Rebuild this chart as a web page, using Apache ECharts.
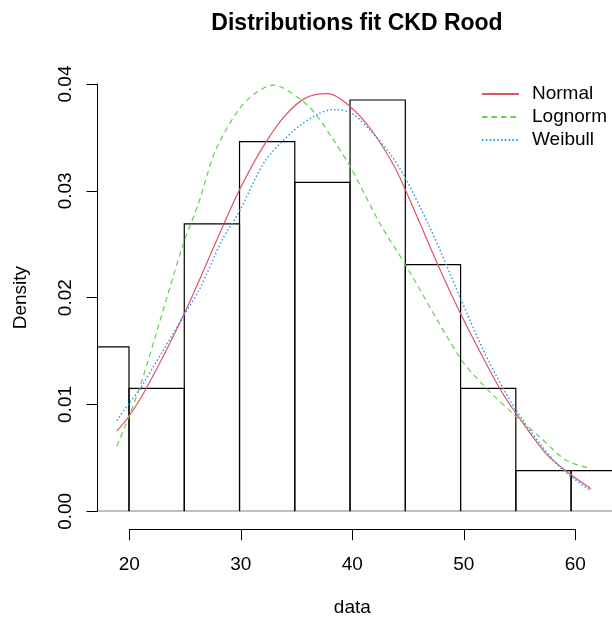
<!DOCTYPE html>
<html><head><meta charset="utf-8">
<script src="https://cdn.jsdelivr.net/npm/echarts@6/dist/echarts.min.js"></script>
<style>html,body{margin:0;padding:0;background:#fff}#c{width:612px;height:621px}</style>
</head><body><div id="c"></div>
<script>
// Histogram (density scale), bins of width 5
const binStart = [15, 20, 25, 30, 35, 40, 45, 50, 55, 60];
const binEnd   = [20, 25, 30, 35, 40, 45, 50, 55, 60, 65];
const density  = [0.0154, 0.0115, 0.0269, 0.0346, 0.0308, 0.0385, 0.0231, 0.0115, 0.0038, 0.0038];

// Fitted density curves
const normalX = [18.9, 20, 21.56, 25, 28.58, 30, 32, 34, 36, 38, 40, 42, 44, 45, 46.52, 47.93, 50, 53.54, 55, 57.73, 59.52, 61.8];
const normalY = [0.0075, 0.0089, 0.0115, 0.0185, 0.0269, 0.0301, 0.0339, 0.0369, 0.0387, 0.0391, 0.0379, 0.0356, 0.0323, 0.0301, 0.0265, 0.0231, 0.0185, 0.0115, 0.0092, 0.0054, 0.0038, 0.0021];

const lognormX = [18.9, 20, 21.1, 24.84, 26.28, 27.84, 29.93, 31.5, 33.07, 35.6, 36.95, 38.6, 40, 42.78, 45, 50, 52.35, 55, 57.13, 59.52, 61.8];
const lognormY = [0.0061, 0.0089, 0.0120, 0.0248, 0.0288, 0.0338, 0.0376, 0.0392, 0.0399, 0.0385, 0.0371, 0.0346, 0.0323, 0.0268, 0.0231, 0.0143, 0.0115, 0.0089, 0.0070, 0.0048, 0.0040];

const weibullX = [18.9, 20, 20.96, 25, 26.34, 28.43, 30, 32.32, 34.86, 36.95, 38.45, 40.09, 41.88, 43.67, 45, 47.12, 48.7, 50, 52.05, 53.85, 55, 57.13, 59.23, 61.8];
const weibullY = [0.0085, 0.0101, 0.0114, 0.0184, 0.0207, 0.0254, 0.0281, 0.0328, 0.0356, 0.0371, 0.0376, 0.0373, 0.0356, 0.0334, 0.0312, 0.0268, 0.0231, 0.0199, 0.0151, 0.0115, 0.0095, 0.0064, 0.0039, 0.0019];

const xTicks = [20, 30, 40, 50, 60];
const yTickLabels = ['0.00', '0.01', '0.02', '0.03', '0.04'];
const seriesNames = ['Normal', 'Lognorm', 'Weibull'];

const FONT = 'Liberation Sans, Arial, Helvetica, sans-serif';
const zip = (xs, ys) => xs.map((x, i) => [x, ys[i]]);
const histData = binStart.map((s, i) => [s, binEnd[i], density[i]]);

const chart = echarts.init(document.getElementById('c'), null, {renderer: 'canvas'});
chart.setOption({
  animation: false,
  backgroundColor: '#ffffff',
  title: {
    text: 'Distributions fit CKD Rood',
    left: 352, top: 7, textAlign: 'center',
    textStyle: {fontFamily: FONT, fontWeight: 'bold', fontSize: 23, color: '#000'}
  },
  legend: {
    orient: 'vertical', left: 476, top: 79.5,
    itemWidth: 37, itemHeight: 14, itemGap: 4,
    selectedMode: false,
    data: seriesNames,
    itemStyle: {opacity: 0},
    textStyle: {fontFamily: FONT, fontSize: 19, lineHeight: 19, color: '#000', padding: [0, 0, 0, 8]}
  },
  grid: [
    {left: 97.5, width: 519, top: 84, height: 427.3},          // plot region
    {left: 129.3, width: 446, top: 500, bottom: 91.7},         // x axis
    {left: 97.5, width: 10, top: 84, height: 427.3}            // y axis
  ],
  xAxis: [
    {gridIndex: 0, type: 'value', min: 17.15, max: 63.7, show: false},
    {gridIndex: 1, type: 'value', min: xTicks[0], max: xTicks[xTicks.length - 1], interval: 10,
     name: 'data', nameLocation: 'middle', nameGap: 69,
     nameTextStyle: {fontFamily: FONT, fontSize: 19, color: '#000'},
     axisLine: {show: true, lineStyle: {color: '#000', width: 1}},
     axisTick: {show: true, inside: false, length: 11, lineStyle: {color: '#000'}},
     axisLabel: {fontFamily: FONT, fontSize: 19, color: '#000', margin: 26},
     splitLine: {show: false}},
    {gridIndex: 2, type: 'value', show: false}
  ],
  yAxis: [
    {gridIndex: 0, type: 'value', min: 0, max: 0.04, show: false},
    {gridIndex: 1, type: 'value', show: false},
    {gridIndex: 2, type: 'value', min: 0, max: 0.04, interval: 0.01,
     name: 'Density', nameLocation: 'middle', nameGap: 67, nameRotate: 90,
     nameTextStyle: {fontFamily: FONT, fontSize: 19, color: '#000'},
     axisLine: {show: true, lineStyle: {color: '#000', width: 1}},
     axisTick: {show: true, inside: false, length: 11, lineStyle: {color: '#000'}},
     axisLabel: {fontFamily: FONT, fontSize: 19, color: '#000', rotate: 90, margin: 22,
                 formatter: (v) => yTickLabels[Math.round(v / 0.01)]},
     splitLine: {show: false}}
  ],
  series: [
    {
      type: 'custom', name: 'hist', xAxisIndex: 0, yAxisIndex: 0, clip: true,
      data: histData,
      encode: {x: [0, 1], y: 2},
      renderItem: function (params, api) {
        const p0 = api.coord([api.value(0), api.value(2)]);
        const p1 = api.coord([api.value(1), 0]);
        return {
          type: 'rect',
          shape: {x: p0[0], y: p0[1], width: p1[0] - p0[0], height: p1[1] - p0[1]},
          style: {fill: 'none', stroke: '#000', lineWidth: 1.2}
        };
      },
      silent: true, z: 1
    },
    {
      type: 'line', name: 'Normal', xAxisIndex: 0, yAxisIndex: 0,
      data: zip(normalX, normalY), smooth: 0.3, symbol: 'none', z: 3,
      lineStyle: {color: '#DF536B', width: 1.2, type: 'solid'},
      itemStyle: {color: '#DF536B'}
    },
    {
      type: 'line', name: 'Lognorm', xAxisIndex: 0, yAxisIndex: 0,
      data: zip(lognormX, lognormY), smooth: 0.3, symbol: 'none', z: 3,
      lineStyle: {color: '#61D04F', width: 1.2, type: [5.5, 4]},
      itemStyle: {color: '#61D04F'}
    },
    {
      type: 'line', name: 'Weibull', xAxisIndex: 0, yAxisIndex: 0,
      data: zip(weibullX, weibullY), smooth: 0.3, symbol: 'none', z: 3,
      lineStyle: {color: '#2297E6', width: 1.4, type: [1.5, 2.3]},
      itemStyle: {color: '#2297E6'}
    }
  ]
});
</script>
</body></html>
